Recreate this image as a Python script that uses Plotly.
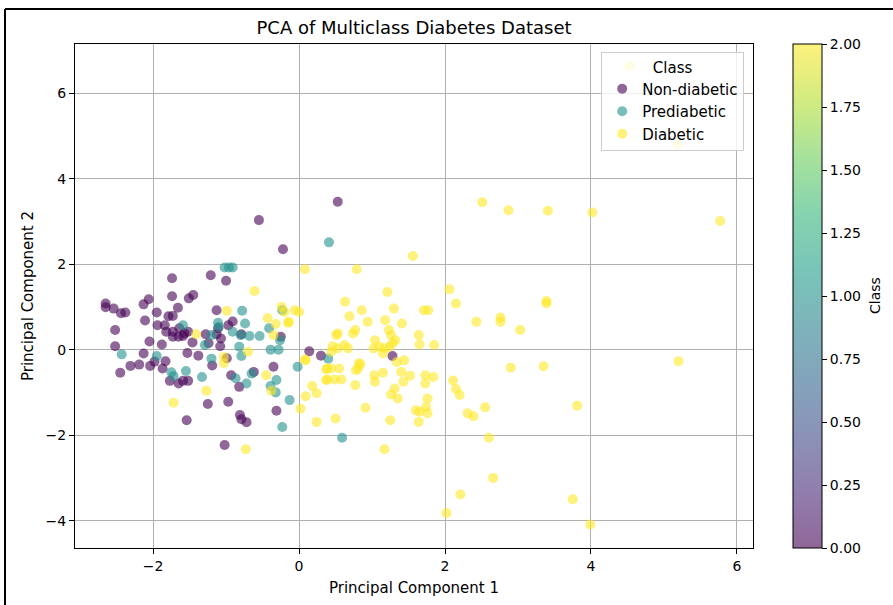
import plotly.graph_objects as go
import plotly.colors as pc

# ---------------- data ----------------
class_names = ["Non-diabetic", "Prediabetic", "Diabetic"]
class_values = [0, 1, 2]

nondiabetic_x = [-0.55, -0.22, 0.53, -1.21, -1.74, -1.00, -1.74, -1.51, -1.45, -2.65, -2.65, -2.54, -2.44, -2.38,
                 -2.13, -2.06, -1.95, -2.11, -1.79, -1.73, -1.66, -1.94, -1.84, -1.82, -1.73, -1.64, -1.57, -1.52,
                 -1.13, -0.97, -0.91, -1.11, -1.13, -1.07, -2.52, -2.05, -2.52, -1.88, -1.73, -1.65, -1.59, -1.46,
                 -1.28, -1.24, -1.08, -0.79, -1.38, -1.53, -2.13, -2.31, -2.19, -2.04, -1.98, -1.83, -1.87, -2.45,
                 -1.77, -1.65, -1.59, -1.52, -1.19, -0.93, -0.82, -0.99, -0.35, -0.25, -0.62, 0.14, 0.30, 1.28,
                 -1.25, -0.97, -0.31, -0.81, -0.79, -0.72, -1.54, -1.02]
nondiabetic_y = [3.03, 2.35, 3.46, 1.74, 1.67, 1.61, 1.25, 1.20, 1.28, 1.08, 0.99, 0.96, 0.85, 0.87,
                 1.06, 1.18, 0.87, 0.68, 0.78, 0.79, 0.98, 0.57, 0.57, 0.42, 0.42, 0.50, 0.38, 0.42,
                 0.92, 0.57, 0.66, 0.50, 0.36, 0.26, 0.46, 0.19, 0.08, 0.12, 0.30, 0.30, 0.32, 0.17,
                 0.36, 0.15, 0.08, 0.36, -0.14, -0.08, -0.09, -0.38, -0.35, -0.38, -0.28, -0.27, -0.44, -0.54,
                 -0.73, -0.79, -0.73, -0.73, -0.37, -0.60, -0.87, -0.20, -0.40, 0.30, -0.52, -0.04, -0.14, -0.15,
                 -1.27, -1.22, -1.43, -1.53, -1.63, -1.70, -1.65, -2.23]

prediabetic_x = [-1.02, -0.96, -0.91, -0.78, -0.74, -1.11, -1.10, -1.59, -2.43, -1.95, -1.20, -1.29, -1.20,
                 -0.91, -0.80, -0.68, -0.54, -0.41, -0.39, -0.28, -0.82, -0.79, -0.26, -1.75, -1.72, -1.55,
                 -1.33, -0.87, -0.72, -0.65, -0.39, -0.31, -0.32, -0.02, -0.13, -0.23, 0.41, 0.40, 0.59, -0.23]
prediabetic_y = [1.92, 1.92, 1.92, 0.91, 0.61, 0.63, 0.53, 0.57, -0.11, -0.15, 0.34, 0.11, -0.21,
                 0.42, 0.34, 0.32, 0.32, 0.50, 0.00, 0.00, 0.07, -0.15, 0.22, -0.53, -0.62, -0.50,
                 -0.64, -0.67, -0.79, -0.56, -0.85, -0.71, -1.00, -0.40, -1.18, -1.81, 2.51, -0.21, -2.06, 0.92]

diabetic_x = [0.08, -0.61, -0.99, -0.24, -0.20, -0.06, 0.00, -0.43, -0.32, -0.15, -1.41, -0.35, -0.70, -1.03,
              -1.03, 0.09, -0.45, 0.37, 0.37, -1.27, -0.38, 0.18, 0.09, 0.24, -1.72, 0.02, 0.24, -0.73,
              1.56, 0.79, 1.21, 0.63, 0.86, 1.30, 1.71, 1.77, 0.69, 0.94, 1.18, 1.41, -0.14, 0.77, 0.74,
              0.53, 0.51, 1.23, 1.26, 1.32, 1.28, 1.64, 1.65, 1.04, 1.02, 1.10, 1.17, 1.24, 0.46, 0.53,
              0.62, 0.67, 1.15, 0.44, 0.08, 0.82, 1.34, 1.44, 0.39, 0.44, 0.55, 0.78, 1.03, 1.15, 1.40,
              0.39, 0.49, 0.58, 0.81, 0.84, 0.77, 1.04, 1.43, 1.52, 1.31, 1.26, 1.35, 1.73, 1.73, 1.65,
              1.60, 1.64, 0.50, 0.91, 1.25, 1.17,
              2.51, 2.87, 3.41, 4.02, 5.77, 2.06, 2.15, 2.43, 2.76, 2.76, 3.03, 3.39, 3.39, 1.85, 2.90,
              3.35, 2.11, 2.15, 2.20, 2.55, 2.31, 2.39, 2.60, 2.66, 3.81, 1.84, 1.76, 1.74, 1.76, 5.20,
              2.21, 3.75, 2.02, 3.99, 4.53, 5.19]
diabetic_y = [1.88, 1.37, 0.91, 1.00, 0.88, 0.92, 0.88, 0.74, 0.60, 0.63, 0.36, 0.34, -0.05, -0.17,
              -0.32, -0.25, -0.60, -0.46, -0.71, -0.96, -0.96, -0.85, -1.09, -1.02, -1.24, -1.38, -1.69, -2.33,
              2.19, 1.88, 1.35, 1.12, 0.92, 0.96, 0.92, 0.92, 0.78, 0.65, 0.69, 0.61, 0.65, 0.46, 0.38,
              0.38, 0.34, 0.46, 0.34, 0.22, 0.15, 0.34, 0.12, 0.22, 0.03, 0.07, 0.03, 0.07, 0.08, 0.03,
              0.11, 0.03, -0.09, -0.05, -0.23, -0.32, -0.29, -0.25, -0.44, -0.44, -0.44, -0.48, -0.60, -0.54, -0.52,
              -0.70, -0.70, -0.70, -0.44, -0.34, -0.83, -0.75, -0.75, -0.61, -0.91, -1.05, -1.14, -0.60, -0.79, -1.45,
              -1.42, -1.69, -1.61, -1.36, -1.65, -2.33,
              3.45, 3.26, 3.25, 3.21, 3.01, 1.41, 1.08, 0.65, 0.75, 0.65, 0.46, 1.14, 1.08, 0.11, -0.42,
              -0.39, -0.72, -0.92, -1.06, -1.35, -1.49, -1.56, -2.06, -3.00, -1.31, -0.64, -1.14, -1.34, -1.49, -0.27,
              -3.39, -3.50, -3.82, -4.09, 6.63, 4.80]

x_ticks = [-2, 0, 2, 4, 6]
y_ticks = [-4, -2, 0, 2, 4, 6]
cbar_ticks = [0, 0.25, 0.5, 0.75, 1.0, 1.25, 1.5, 1.75, 2.0]

# ---------------- styling ----------------
FONT = "DejaVu Sans"
ALPHA = 0.6
viridis = pc.sequential.Viridis
class_colors = ["#440154", "#21918c", "#fde725"]


def blend(hexcol, a=ALPHA):
    r, g, b = pc.hex_to_rgb(hexcol)
    return "rgb(%d,%d,%d)" % tuple(round(c * a + 255 * (1 - a)) for c in (r, g, b))


cbar_scale = [[i / (len(viridis) - 1), blend(c)] for i, c in enumerate(viridis)]

fig = go.Figure()
series = [(nondiabetic_x, nondiabetic_y), (prediabetic_x, prediabetic_y), (diabetic_x, diabetic_y)]
for (xs, ys), name, col in zip(series, class_names, class_colors):
    fig.add_trace(go.Scatter(
        x=xs, y=ys, mode="markers", name=name,
        marker=dict(size=10, color=col, opacity=ALPHA, line=dict(width=0)),
    ))

# colorbar carrier
fig.add_trace(go.Scatter(
    x=[None], y=[None], mode="markers", showlegend=False, hoverinfo="skip",
    marker=dict(color=[class_values[0]], cmin=class_values[0], cmax=class_values[-1],
                colorscale=cbar_scale, showscale=True,
                colorbar=dict(x=(793 - 75) / 678, xanchor="left", xpad=0, ypad=0,
                              y=0.5, yanchor="middle", len=1, lenmode="fraction",
                              thickness=29, thicknessmode="pixels",
                              outlinewidth=1, outlinecolor="black",
                              tickvals=cbar_ticks, tickformat=".2f", ticks="outside",
                              ticklen=5, tickwidth=1, tickcolor="black",
                              tickfont=dict(family=FONT, size=14, color="black"))),
))

axis_common = dict(showline=True, linecolor="black", linewidth=1, mirror=True,
                   ticks="outside", ticklen=5, tickwidth=1, tickcolor="black",
                   showgrid=True, gridcolor="#b0b0b0", gridwidth=1, zeroline=False,
                   tickfont=dict(family=FONT, size=14, color="black"))

fig.update_layout(
    width=893, height=605,
    margin=dict(l=75, r=140, t=44, b=57),
    paper_bgcolor="white", plot_bgcolor="white",
    font=dict(family=FONT, size=14, color="black"),
    title=dict(text="PCA of Multiclass Diabetes Dataset", x=0.5, xref="paper",
               y=1 - 28 / 605, yref="container", yanchor="middle",
               font=dict(family=FONT, size=18, color="black")),
    xaxis=dict(range=[-3.07, 6.22], tickvals=x_ticks, **axis_common,
               title=dict(text="Principal Component 1", standoff=9,
                          font=dict(family=FONT, size=15, color="black"))),
    yaxis=dict(range=[-4.64, 7.15], tickvals=y_ticks, **axis_common,
               title=dict(text="Principal Component 2", standoff=8,
                          font=dict(family=FONT, size=15, color="black"))),
    legend=dict(x=0.987, y=0.984, xanchor="right", yanchor="top",
                bgcolor="rgba(255,255,255,0.8)", bordercolor="#cccccc", borderwidth=1,
                title=dict(text="Class", side="top center", font=dict(family=FONT, size=15)),
                font=dict(family=FONT, size=15, color="black"),
                itemwidth=30),
    annotations=[dict(text="Class", x=(875 - 75) / 678, y=0.5, xref="paper", yref="paper",
                      textangle=-90, showarrow=False, xanchor="center", yanchor="middle",
                      font=dict(family=FONT, size=14, color="black"))],
    shapes=[
        dict(type="line", xref="paper", yref="paper",
             x0=(5 - 75) / 678, x1=(900 - 75) / 678, y0=(548 - 9) / 504, y1=(548 - 9) / 504,
             line=dict(color="black", width=2)),
        dict(type="line", xref="paper", yref="paper",
             x0=(5 - 75) / 678, x1=(5 - 75) / 678, y0=(548 - 9) / 504, y1=(548 - 610) / 504,
             line=dict(color="black", width=2)),
    ],
)

fig.write_html("out.html")
